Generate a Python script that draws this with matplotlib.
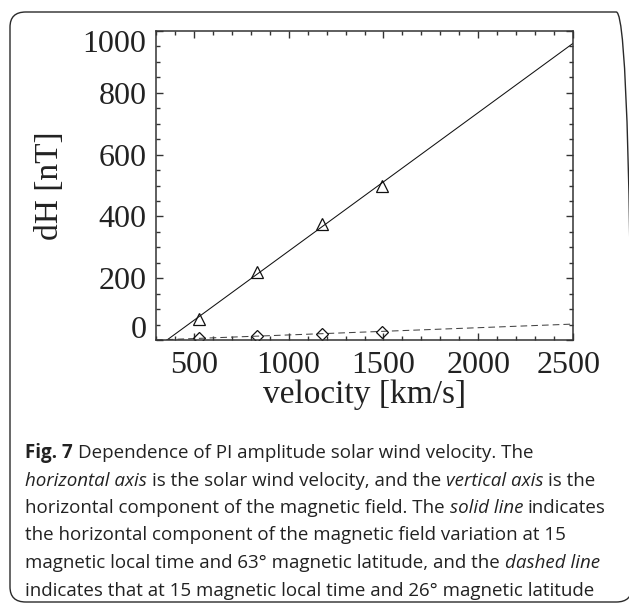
import matplotlib
matplotlib.use("Agg")
import matplotlib.pyplot as plt
from matplotlib.patches import FancyBboxPatch
from matplotlib.transforms import ScaledTranslation

# data
velocity = [528, 831, 1176, 1491]
dh_63 = [69, 219, 376, 498]        # triangles, 63 deg MLAT
dh_26 = [6, 12, 19, 26]            # diamonds, 26 deg MLAT
fit_v = [300, 2500]
fit_63 = [-26, 960]
fit_26 = [0, 51.5]

xticks = [500, 1000, 1500, 2000, 2500]
yticks = [0, 200, 400, 600, 800, 1000]

caption = [
    [("Fig. 7", "bold"), (" Dependence of PI amplitude solar wind velocity. The", "normal")],
    [("horizontal axis", "italic"), (" is the solar wind velocity, and the ", "normal"),
     ("vertical axis", "italic"), (" is the", "normal")],
    [("horizontal component of the magnetic field. The ", "normal"), ("solid line", "italic"),
     (" indicates", "normal")],
    [("the horizontal component of the magnetic field variation at 15", "normal")],
    [("magnetic local time and 63° magnetic latitude, and the ", "normal"), ("dashed line", "italic")],
    [("indicates that at 15 magnetic local time and 26° magnetic latitude", "normal")],
]

W, H = 629, 605
SERIF = ["Liberation Serif", "DejaVu Serif"]
INK = "#222222"
AX = "#333333"

fig = plt.figure(figsize=(W / 100, H / 100), dpi=100)
fig.patch.set_facecolor("white")

# rounded frame around figure + caption
box = FancyBboxPatch((10 / W, 1 - 602 / H), 622 / W, 590 / H,
                     boxstyle="round,pad=0,rounding_size=0.025", transform=fig.transFigure,
                     fc="none", ec="#2a2a2a", lw=1.0, clip_on=False)
fig.patches.append(box)

# axes in pixel box: left 156, right 573, top 31, bottom 340
ax = fig.add_axes([156 / W, 1 - 340 / H, 417 / W, 309 / H])
ax.plot(fit_v, fit_63, color="#111111", lw=0.75)
ax.plot(fit_v, fit_26, color="#444444", lw=0.75, dashes=(6.4, 3.9))
ax.plot(velocity, dh_63, ls="none", marker="^", ms=9.2, mfc="none", mec="#111111", mew=0.9)
ax.plot(velocity, dh_26, ls="none", marker="D", ms=6.2, mfc="none", mec="#111111", mew=0.9)

ax.set_xlim(300, 2500)
ax.set_ylim(0, 1000)
ax.set_xticks(xticks)
ax.set_yticks(yticks)
ax.set_xticks(range(300, 2501, 100), minor=True)
ax.set_yticks(range(0, 1001, 50), minor=True)
ax.tick_params(which="both", direction="in", top=True, right=True, color=AX, width=1.0)
ax.tick_params(which="major", length=5.2, labelsize=23, pad=7)
ax.tick_params(which="minor", length=3.0)
for s in ax.spines.values():
    s.set_color(AX); s.set_linewidth(1.1)
for lab in ax.get_xticklabels() + ax.get_yticklabels():
    lab.set_fontfamily(SERIF)
    lab.set_color(INK)
ax.tick_params(axis="x", pad=8)

# edge labels are nudged inward in the original
yl = ax.get_yticklabels()
yl[0].set_transform(yl[0].get_transform() + ScaledTranslation(0, 13 / 100, fig.dpi_scale_trans))
yl[-1].set_transform(yl[-1].get_transform() + ScaledTranslation(0, -10 / 100, fig.dpi_scale_trans))
xl = ax.get_xticklabels()
xl[-1].set_transform(xl[-1].get_transform() + ScaledTranslation(-4 / 100, 0, fig.dpi_scale_trans))

ax.set_xlabel("velocity [km/s]", fontsize=24, family=SERIF, color=INK, va="center")
ax.xaxis.set_label_coords(0.5, (340 - 395) / 309)
ax.set_ylabel("dH [nT]", fontsize=24, family=SERIF, color=INK, va="center")
ax.yaxis.set_label_coords((50 - 156) / 417, 0.5)

# caption with mixed bold / italic runs
CAP = ["Open Sans", "DejaVu Sans"]
r = fig.canvas.get_renderer()


def width(s, style, size):
    t = fig.text(0, 0, s, fontsize=size, family=CAP,
                 fontweight="bold" if style == "bold" else "normal",
                 fontstyle="italic" if style == "italic" else "normal")
    w = t.get_window_extent(r).width
    t.remove()
    return w


def line_width(line, size):
    sp = width("x x", "normal", size) - width("xx", "normal", size)
    w = 0
    for txt, style in line:
        w += width(txt.strip(), style, size)
        w += sp * (txt.startswith(" ") + txt.endswith(" "))
    return w


# widest caption line spans x = 25 .. 603 px in the reference
CAP_SIZE = 12.0 * 578 / line_width(caption[2], 12.0)
space = width("x x", "normal", CAP_SIZE) - width("xx", "normal", CAP_SIZE)
y0, dy, x0 = 453, 27.5, 25
for i, line in enumerate(caption):
    x = x0
    y = y0 + i * dy
    for txt, style in line:
        if txt.startswith(" "):
            x += space
        body = txt.strip()
        fig.text(x / W, 1 - y / H, body, fontsize=CAP_SIZE, family=CAP, color=INK, va="center",
                 fontweight="bold" if style == "bold" else "normal",
                 fontstyle="italic" if style == "italic" else "normal")
        x += width(body, style, CAP_SIZE)
        if txt.endswith(" "):
            x += space

fig.savefig("out.png", dpi=100)
